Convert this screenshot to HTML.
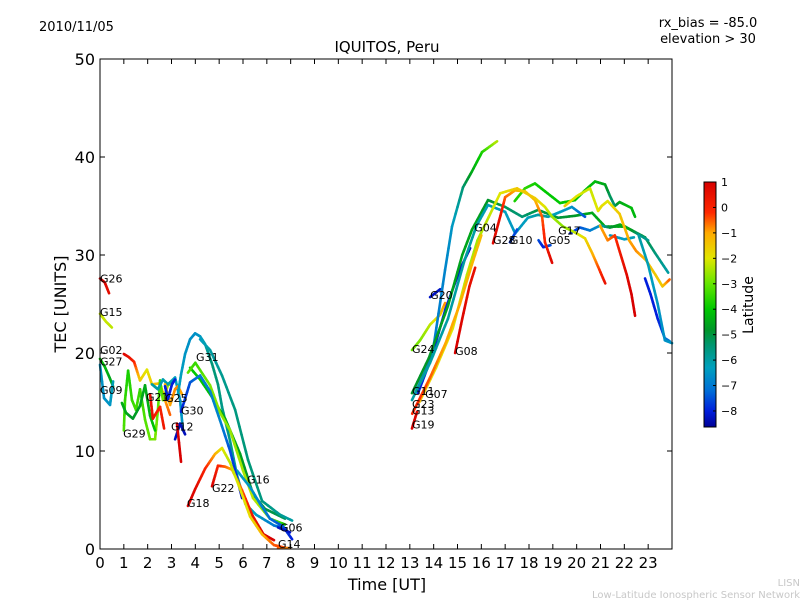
<!DOCTYPE html>
<html><head><meta charset="utf-8"><style>
body{margin:0;background:#fff;}
svg text{font-family:"DejaVu Sans","Liberation Sans",sans-serif;}
</style></head><body>
<svg id="chart" width="800" height="600" xmlns="http://www.w3.org/2000/svg">
<rect width="800" height="600" fill="#fff"/>
<text x="39" y="31" font-size="13">2010/11/05</text>
<text x="387" y="52" font-size="15" text-anchor="middle">IQUITOS, Peru</text>
<text x="708" y="27" font-size="13" text-anchor="middle">rx_bias = -85.0</text>
<text x="708" y="43" font-size="13" text-anchor="middle">elevation &gt; 30</text>
<text x="387" y="590" font-size="16" text-anchor="middle">Time [UT]</text>
<text x="66" y="304" font-size="16" text-anchor="middle" transform="rotate(-90 66 304)">TEC [UNITS]</text>
<text x="800" y="586" font-size="10" fill="#c8c8c8" text-anchor="end">LISN</text>
<text x="800" y="598" font-size="10" fill="#c8c8c8" text-anchor="end">Low-Latitude Ionospheric Sensor Network</text>
<g id="plot"></g>
<g id="axes"></g>
<g id="cbar"></g>
</svg>
<script>
const xTicks=[0,1,2,3,4,5,6,7,8,9,10,11,12,13,14,15,16,17,18,19,20,21,22,23];
const yTicks=[0,10,20,30,40,50];
const cbTicks=[1,0,-1,-2,-3,-4,-5,-6,-7,-8];
const satNames=["G26","G15","G02","G27","G09","G29","G21","G25","G30","G12","G31","G16","G22","G18","G06","G14","G04","G28","G10","G05","G17","G20","G24","G08","G11","G07","G23","G13","G19"];
const labelT=[0,0,0,0,0,0.97,1.93,2.73,3.4,2.98,4.03,6.17,4.7,3.65,7.55,7.47,15.7,16.49,17.2,18.8,19.22,13.85,13.09,14.9,13.09,13.64,13.09,13.09,13.09];
const labelTEC=[27.2,23.8,19.9,18.7,15.8,11.4,15.1,15.0,13.7,12.1,19.2,6.7,5.8,4.3,1.8,0.1,32.4,31.1,31.1,31.1,32.1,25.5,20.0,19.8,15.7,15.4,14.4,13.7,12.3];
// tracks: [time(h), TEC, latitude]
const trackG26=[[0,27.6,1],[0.2,27.2,0.9],[0.38,26.1,0.6]];
const trackG15=[[0,24.0,-2.2],[0.25,23.2,-2.2],[0.5,22.6,-2.3]];
const trackG02=[[0,19.4,-4],[0.2,18.6,-4.2],[0.4,17.5,-4.5],[0.55,16.6,-4.5]];
const trackG09=[[0,18.8,-6.5],[0.17,15.4,-6.6],[0.42,14.7,-6.5],[0.55,17.1,-6.2]];
const trackRed1=[[1.0,19.9,0.8],[1.2,19.6,0.6],[1.43,19.1,0],[1.68,17.2,-1.5],[1.97,18.3,-2],[2.18,16.8,-1.5],[2.52,16.9,-1.2],[2.73,15.2,-1],[2.94,13.7,-0.5]];
const trackG29=[[1.0,12.1,-3.2],[1.05,15.2,-3.5],[1.18,18.2,-3.8],[1.34,15.2,-3.5],[1.51,14.2,-3.3],[1.68,16.3,-3.5],[1.89,13.2,-3.2],[2.1,11.2,-3],[2.31,11.2,-2.8],[2.43,14.2,-3],[2.52,17.2,-3.5],[2.64,15.2,-3],[2.85,16.7,-2.6],[3.02,16.9,-2.5]];
const trackGreen2=[[0.92,14.9,-4.5],[1.09,13.9,-4.5],[1.38,13.3,-4.8],[1.68,14.6,-4.6],[1.89,16.7,-4.5],[2.1,13.6,-4.3],[2.31,12.1,-4]];
const trackG21c=[[2.18,16.8,-6],[2.43,16.3,-6],[2.64,17.3,-6.2],[2.85,16.8,-6],[3.15,17.5,-6.3],[3.36,15.2,-6.5],[3.48,12.1,-6.5]];
const trackG21r=[[2.1,15.8,0.5],[2.22,13.3,0.5],[2.39,14.0,0],[2.52,14.5,0],[2.69,12.3,0.3]];
const trackG25o=[[2.73,16.8,-1],[2.94,14.7,-1],[3.15,16.3,-0.8],[3.27,16.6,-0.8],[3.44,15.8,-1]];
const trackG25b=[[2.73,16.6,-8],[2.85,15.3,-8],[3.02,16.8,-8],[3.15,17.3,-8]];
const trackG12b=[[3.15,11.2,-8.3],[3.36,12.8,-8.3],[3.57,11.7,-8.3]];
const trackG12r=[[3.23,12.8,1],[3.4,8.9,1]];
const trackT2=[[3.27,15.8,-6.3],[3.4,17.8,-6.3],[3.57,19.9,-6.5],[3.78,21.4,-6.6],[3.99,22.0,-6.6],[4.2,21.7,-6.5],[4.41,20.9,-6],[4.7,18.9,-5.5],[4.95,16.8,-5.5],[5.12,14.5,-5.7],[5.46,11.0,-5.7],[5.75,7.5,-6],[6.1,4.6,-6.2],[6.55,3.5,-6.3],[7.3,2.4,-7],[7.8,2.1,-7.5]];
const trackT1=[[3.78,18.5,-4],[4.2,17.3,-4],[4.62,15.8,-4.2],[5.25,13.3,-4.5],[5.88,9.7,-4.6],[6.42,5.6,-5],[6.92,4.1,-5],[7.76,3.1,-5.2]];
const trackTeal=[[4.2,21.4,-6.4],[4.62,20.3,-6],[5.12,17.7,-5.8],[5.67,14.2,-5.6],[6.21,9.1,-5.5],[6.8,4.9,-5.6],[7.55,3.5,-5.8],[8.06,2.9,-6]];
const trackT3=[[3.69,18.0,-3],[4.0,19.0,-3.5],[4.62,16.7,-2.8],[5.04,13.9,-2.7],[5.46,12.1,-2.6],[6.0,8.0,-2.5],[6.42,5.2,-2.3],[7.13,3.1,-2.8],[7.76,2.5,-3.8]];
const trackG16=[[5.75,8.0,-6.3],[6.3,6.3,-6.5],[6.72,4.6,-6.8],[7.13,3.1,-7.2],[7.68,2.3,-7.5],[8.06,1.0,-8]];
const trackG30=[[3.4,14.0,-8],[3.78,17.0,-7.5],[4.2,17.7,-7],[4.62,16.1,-6.8],[5.04,13.1,-6.8],[5.46,10.0,-7.5],[5.96,5.2,-8.2]];
const trackG22=[[4.7,6.4,1],[4.95,8.5,0],[5.25,8.4,-0.5],[5.54,8.1,-1],[5.96,6.0,-0.5],[6.4,3.4,0.3],[6.86,1.5,0.8],[7.3,0.9,1]];
const trackG18=[[3.69,4.4,1],[3.99,6.1,0.8],[4.41,8.2,0],[4.83,9.7,-1],[5.12,10.3,-2],[5.46,8.8,-2.3],[5.88,6.1,-2],[6.3,3.3,-1.8],[6.8,1.5,-1.2],[7.3,0.4,-0.5],[7.8,0.1,-0.3]];
const trackG14=[[7.47,0.1,-0.5],[7.97,0.1,-0.8]];
const trackG06=[[7.47,2.2,-8.2],[7.97,1.7,-8.2]];
const trackG24=[[13.09,20.3,-3],[13.43,21.3,-2.8],[13.85,22.9,-2.3],[14.27,23.9,-1.5],[14.48,25.1,-0.8]];
const trackG20=[[13.85,25.7,-8.2],[14.27,26.5,-8.2]];
const trackBlueA=[[13.34,15.9,-8],[13.9,19.5,-8],[14.5,24.5,-8],[15.1,28.5,-8.2],[15.53,30.7,-8.3]];
const trackCyanBig=[[13.22,15.9,-7],[13.93,19.6,-7],[14.48,28.5,-6.8],[14.77,32.9,-6.5],[15.23,36.9,-5.5],[15.6,38.5,-4.5],[16.03,40.5,-3.8],[16.66,41.6,-2.3]];
const trackG04=[[13.09,15.9,-4.8],[13.8,19.5,-4.8],[14.6,24.8,-4.6],[15.2,30.0,-4.6],[15.61,32.6,-4.5],[16.28,35.6,-4.8],[17.0,34.9,-5.2],[17.71,33.9,-5.5],[18.38,34.6,-5],[19.22,33.8,-5],[19.93,34.0,-4.8],[20.65,34.3,-4.5],[21.19,32.9,-4.5],[22.03,32.9,-4.5],[22.87,31.8,-5],[23.29,30.2,-5.5],[23.84,28.2,-6]];
const trackG17=[[17.4,35.5,-3.8],[17.83,36.8,-3.5],[18.25,37.3,-3.8],[18.67,36.5,-4],[19.3,35.3,-4],[19.93,35.6,-4],[20.35,36.6,-4.2],[20.77,37.5,-4.2],[21.19,37.2,-4.5],[21.4,36.0,-5.2],[21.6,35.0,-5.5],[21.8,35.4,-4.5],[22.3,34.8,-4.2],[22.45,33.9,-4.3]];
const trackG05b=[[19.72,32.2,-8],[20.14,32.8,-7.5],[20.56,32.5,-7],[20.98,33,-6.5],[21.4,32.8,-5],[21.82,33.1,-4.5],[22.24,32.6,-4.5],[22.6,32.1,-5.5],[23.0,31.5,-5.8]];
const trackTealB=[[21.4,32.0,-6.5],[22.0,31.6,-6.3],[22.4,31.8,-6.2]];
const trackG10=[[13.09,15.2,-6],[13.85,19.0,-6],[14.6,23.5,-6],[15.3,29.5,-6],[15.8,33.0,-6],[16.28,35.1,-6.2],[17.0,34.4,-6.3],[17.42,32.2,-6.5],[17.95,33.8,-6.3],[18.38,34.1,-6],[18.8,33.9,-6],[19.22,34.3,-6.3],[19.8,34.9,-6.5],[20.35,33.9,-7.5]];
const trackG10b=[[17.2,31.3,-7.8],[17.5,32.6,-7.5]];
const trackG05c=[[18.4,31.5,-7.5],[18.6,30.8,-8],[18.9,31.0,-7.5]];
const trackG28=[[16.49,31.2,0.8],[16.8,34.0,0.5],[17.0,35.9,-0.5],[17.42,36.6,-1],[17.83,36.5,-1.5],[18.25,35.6,-1.2],[18.55,33.9,-0.5],[18.67,31.3,0],[18.97,29.2,0.8]];
const trackG07=[[13.4,15.0,-1.5],[14.1,18.5,-1.8],[14.8,22.5,-2],[15.4,28.0,-2.3],[15.84,31.5,-2.5],[16.79,36.3,-2],[17.5,36.8,-1.5],[18.25,35.8,-1.5],[18.67,34.9,-2],[18.97,33.9,-2.5],[19.43,32.9,-2.7],[19.93,32.3,-2.3],[20.35,31.7,-1.8],[20.65,30.2,-1.2],[20.9,28.8,-0.5],[21.2,27.1,0.5]];
const trackG07o=[[13.1,13.8,0],[13.85,17.5,-0.5],[14.5,21.0,-1],[15.1,25.0,-1],[15.6,29.0,-1.2],[16.0,32.0,-1.3]];
const trackG08=[[14.9,20.0,1],[15.2,23.5,0.8],[15.5,26.8,0.6],[15.74,28.7,0.5]];
const trackG19=[[13.09,12.3,1],[13.3,14.0,0.8]];
const trackYR=[[19.5,35.0,-1.5],[20.0,36.0,-2],[20.56,36.8,-2.2],[20.9,34.5,-2],[21.05,35.0,-1.8],[21.3,35.5,-2],[21.8,34.2,-1.5],[22.2,31.5,-1],[22.5,30.4,-0.8],[22.9,29.5,-1.2],[23.3,28.0,-1.5],[23.6,26.8,-1.5],[23.9,27.5,-0.5]];
const trackRedR=[[20.98,33.0,-1],[21.3,31.5,-0.8],[21.6,32.0,-0.3],[21.85,30.0,0.3],[22.1,28.0,0.7],[22.3,26.0,1],[22.45,23.8,1]];
const trackBlueR=[[22.87,27.6,-8],[23.1,26.0,-8],[23.4,23.5,-8],[23.7,21.5,-7.5],[23.9,21.2,-7]];
const trackTealR=[[22.6,32.0,-6],[23.0,29.0,-6.2],[23.4,25.0,-6.5],[23.7,21.3,-6.6],[24,21.0,-6.5]];
const tracks=[trackG26,trackG15,trackG02,trackG09,trackRed1,trackG29,trackGreen2,trackG21c,trackG21r,trackG25o,trackG25b,trackG12b,trackG12r,trackT2,trackT1,trackTeal,trackT3,trackG16,trackG30,trackG22,trackG18,trackG14,trackG06,trackG24,trackG20,trackBlueA,trackCyanBig,trackG04,trackG17,trackG05b,trackTealB,trackG10,trackG10b,trackG05c,trackG28,trackG07,trackG07o,trackG08,trackG19,trackYR,trackRedR,trackBlueR,trackTealR];

const NS="http://www.w3.org/2000/svg";
const X0=100,X1=672,Y0=549,Y1=59;
const LATMIN=-8.63,LATMAX=1;
const CBX=704,CBW=12,CBT=182,CBB=427;
const CSTOPS=[[-8.63,0,0,150],[-8,0,30,220],[-7.2,0,110,215],[-6.3,0,160,190],[-5.4,0,150,110],[-4.8,0,150,40],[-4,0,200,0],[-3,100,230,0],[-2,225,230,0],[-1,255,170,0],[-0.2,255,40,0],[1,215,0,0]];
function xs(t){return X0+t/24*(X1-X0);}
function ys(v){return Y0-v/50*(Y0-Y1);}
function cy(l){return CBB-(l-LATMIN)/(LATMAX-LATMIN)*(CBB-CBT);}
function jet(l){
  l=Math.max(LATMIN,Math.min(LATMAX,l));
  for(let i=0;i<CSTOPS.length-1;i++){
    const a=CSTOPS[i],b=CSTOPS[i+1];
    if(l<=b[0]){const s=(l-a[0])/(b[0]-a[0]);
      return `rgb(${Math.round(a[1]+(b[1]-a[1])*s)},${Math.round(a[2]+(b[2]-a[2])*s)},${Math.round(a[3]+(b[3]-a[3])*s)})`;}
  }
  return 'rgb(215,0,0)';
}
function mk(tag,attrs,parent){const e=document.createElementNS(NS,tag);for(const k in attrs)e.setAttribute(k,attrs[k]);parent.appendChild(e);return e;}
const plot=document.getElementById('plot');
tracks.forEach((tr,ti)=>{
  const g=mk('g',{},plot);
  
  
  for(let i=0;i<tr.length-1;i++){
    const a=tr[i],b=tr[i+1];
    const n=6;
    for(let k=0;k<n;k++){
      const s0=k/n,s1=(k+1)/n;
      const seg=mk('line',{x1:xs(a[0]+(b[0]-a[0])*s0),y1:ys(a[1]+(b[1]-a[1])*s0),x2:xs(a[0]+(b[0]-a[0])*s1),y2:ys(a[1]+(b[1]-a[1])*s1),stroke:jet(a[2]+(b[2]-a[2])*(s0+s1)/2),'stroke-width':2.6,'stroke-linecap':'round'},g);
      
      
    }
  }
});
satNames.forEach((nm,i)=>{
  const t=mk('text',{x:xs(labelT[i]),y:ys(labelTEC[i]),'font-size':11},plot);
  t.textContent=nm;
  
  
});
const axes=document.getElementById('axes');
const frame=mk('rect',{x:X0,y:Y1,width:X1-X0,height:Y0-Y1,fill:'none',stroke:'#000','stroke-width':1},axes);


xTicks.forEach(v=>{
  const x=xs(v);
  mk('line',{x1:x,y1:Y0,x2:x,y2:Y0-5,stroke:'#000'},axes);
  mk('line',{x1:x,y1:Y1,x2:x,y2:Y1+5,stroke:'#000'},axes);
  const t=mk('text',{x:x,y:Y0+19,'font-size':15,'text-anchor':'middle'},axes);
  t.textContent=v;
  
  
});
yTicks.forEach(v=>{
  const y=ys(v);
  mk('line',{x1:X0,y1:y,x2:X0+5,y2:y,stroke:'#000'},axes);
  mk('line',{x1:X1,y1:y,x2:X1-5,y2:y,stroke:'#000'},axes);
  const t=mk('text',{x:X0-5,y:y+6,'font-size':16,'text-anchor':'end'},axes);
  t.textContent=v;
  
  
});
const cb=document.getElementById('cbar');
for(let yy=CBT;yy<CBB;yy++){
  mk('rect',{x:CBX,y:yy,width:CBW,height:1.2,fill:jet(LATMAX-(yy+0.5-CBT)/(CBB-CBT)*(LATMAX-LATMIN))},cb);
}
mk('rect',{x:CBX,y:CBT,width:CBW,height:CBB-CBT,fill:'none',stroke:'#000'},cb);
cbTicks.forEach(v=>{
  const y=cy(v);
  mk('line',{x1:CBX+CBW-3,y1:y,x2:CBX+CBW,y2:y,stroke:'#000'},cb);
  const t=mk('text',{x:CBX+CBW+5,y:y+4,'font-size':11},cb);
  t.textContent=v<0?'\u2212'+Math.abs(v):String(v);
  
  
});
const lt=mk('text',{x:753,y:305,'font-size':14,'text-anchor':'middle',transform:'rotate(-90 753 305)'},cb);
lt.textContent='Latitude';


</script>
</body></html>
